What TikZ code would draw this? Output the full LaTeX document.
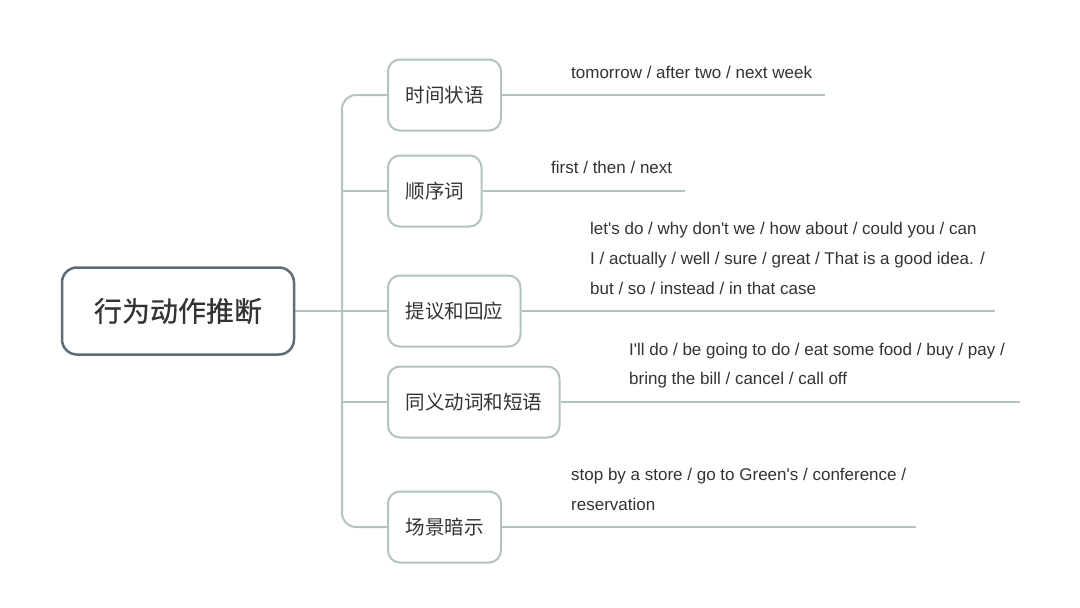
\documentclass[tikz,border=0pt]{standalone}
\usepackage{fontspec}
\setmainfont{Liberation Sans}[Ligatures=TeXOff]
\newfontfamily\cjk{Noto Sans CJK SC}
\newfontfamily\cjkbold[FakeBold=0.6]{Noto Sans CJK SC}
\definecolor{rootline}{HTML}{5D6D78}
\definecolor{conn}{HTML}{B4C3BE}
\definecolor{txt}{HTML}{333333}
\tikzset{
  rootbox/.style={draw=rootline, line width=2.5pt, rounded corners=15pt, fill=white,
    minimum height=87pt, inner xsep=32pt, text=txt, font=\cjkbold\fontsize{28}{32}\selectfont},
  topicbox/.style={draw=conn, line width=2pt, rounded corners=12pt, fill=white,
    minimum height=71pt, inner xsep=17.5pt, text=txt, font=\cjk\fontsize{19.5}{23}\selectfont, anchor=west},
  link/.style={draw=conn, line width=2pt},
  note/.style={anchor=base west, text=txt, inner sep=0pt, font=\fontsize{17}{20}\selectfont}
}
\begin{document}
\begin{tikzpicture}[x=1pt,y=-1pt]
\useasboundingbox[fill=white] (0,0) rectangle (1080,608);
% trunk coordinates
\coordinate (jn) at (342,311);
\coordinate (t1) at (342,95);
\coordinate (t2) at (342,191);
\coordinate (t3) at (342,311);
\coordinate (t4) at (342,402);
\coordinate (t5) at (342,527);
% underline end points
\coordinate (e1) at (825,95);
\coordinate (e2) at (685,191);
\coordinate (e3) at (995,311);
\coordinate (e4) at (1020,402);
\coordinate (e5) at (916,527);
% connectors (drawn first)
\draw[link] (178,311) -- (jn);
\draw[link, rounded corners=14pt] (387,95) -- (t1) -- (t5) -- (387,527);
\draw[link] (t2) -- (387,191);
\draw[link] (t3) -- (387,311);
\draw[link] (t4) -- (387,402);
% nodes
\node[rootbox] (root) at (178,311) {行为动作推断};
\node[topicbox] (b1) at (387,95) {时间状语};
\node[topicbox] (b2) at (387,191) {顺序词};
\node[topicbox] (b3) at (387,311) {提议和回应};
\node[topicbox] (b4) at (387,402) {同义动词和短语};
\node[topicbox] (b5) at (387,527) {场景暗示};
% underlines
\draw[link] (b1.east) -- (e1);
\draw[link] (b2.east) -- (e2);
\draw[link] (b3.east) -- (e3);
\draw[link] (b4.east) -- (e4);
\draw[link] (b5.east) -- (e5);
% notes
\node[note] (n1) at (571,78) {tomorrow / after two / next week};
\node[note] (n2) at (551,173) {first / then / next};
\node[note] (n3a) at (590,234) {let's do / why don't we / how about / could you / can};
\node[note] (n3b) at (590,264) {I / actually / well / sure / great / That is a good idea. /};
\node[note] (n3c) at (590,294) {but / so / instead / in that case};
\node[note] (n4a) at (629,355) {I'll do / be going to do / eat some food / buy / pay /};
\node[note] (n4b) at (629,384) {bring the bill / cancel / call off};
\node[note] (n5a) at (571,480) {stop by a store / go to Green's / conference /};
\node[note] (n5b) at (571,510) {reservation};
\end{tikzpicture}
\end{document}
